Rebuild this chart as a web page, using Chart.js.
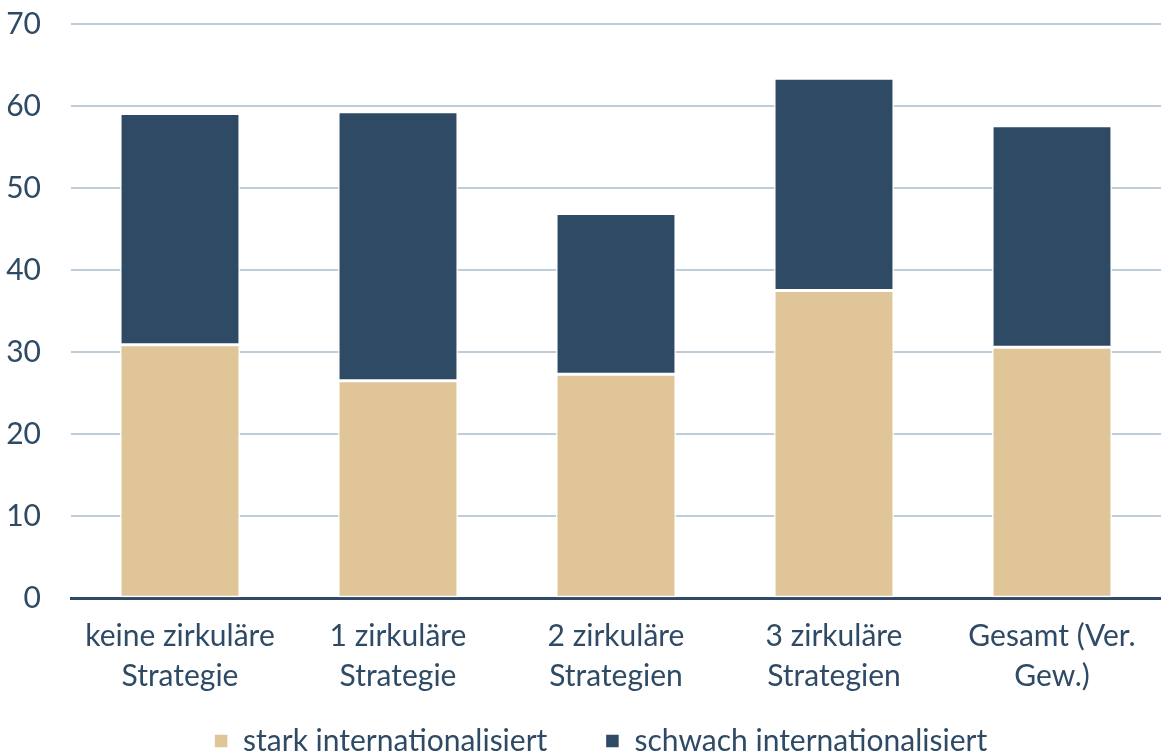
<!DOCTYPE html>
<html>
<head>
<meta charset="utf-8">
<script src="https://cdn.jsdelivr.net/npm/chart.js@4/dist/chart.umd.min.js"></script>
<style>
  html, body { margin: 0; padding: 0; background: #fff; }
  #wrap { width: 1161px; height: 753px; }
</style>
</head>
<body>
<div id="wrap"><canvas id="chart" width="1161" height="753"></canvas></div>
<script>
const categories = [
    ['keine zirkuläre', 'Strategie'],
    ['1 zirkuläre', 'Strategie'],
    ['2 zirkuläre', 'Strategien'],
    ['3 zirkuläre', 'Strategien'],
    ['Gesamt (Ver.', 'Gew.)']
];
const starkValues = [30.9, 26.5, 27.3, 37.5, 30.6];
const schwachValues = [28.2, 32.8, 19.6, 25.9, 27.0];
const yTicks = [0, 10, 20, 30, 40, 50, 60, 70];

const textColor = '#2E4A65';
const fontFamily = 'Lato, "Open Sans", sans-serif';

new Chart(document.getElementById('chart'), {
    type: 'bar',
    data: {
        labels: categories,
        datasets: [
            {
                // trailing spaces widen the gap between the two legend entries
                label: 'stark internationalisiert      ',
                data: starkValues,
                backgroundColor: '#DFC598',
                borderColor: '#ffffff',
                borderWidth: 1.5,
                borderSkipped: false,
                barPercentage: 0.55,
                categoryPercentage: 1.0
            },
            {
                label: 'schwach internationalisiert    ',
                data: schwachValues,
                backgroundColor: '#2E4A65',
                borderColor: '#ffffff',
                borderWidth: 1.5,
                borderSkipped: false,
                barPercentage: 0.55,
                categoryPercentage: 1.0
            }
        ]
    },
    options: {
        responsive: false,
        animation: false,
        layout: { padding: { left: 6, right: 0, top: 0, bottom: -13 } },
        plugins: {
            tooltip: { enabled: false },
            legend: {
                position: 'bottom',
                fullSize: false,
                labels: {
                    color: textColor,
                    font: { family: fontFamily, size: 30 },
                    usePointStyle: true,
                    pointStyle: 'rect',
                    boxWidth: 14,
                    boxHeight: 14,
                    padding: 12
                }
            }
        },
        scales: {
            x: {
                stacked: true,
                grid: { display: false, drawTicks: false },
                border: { color: '#2E4A65', width: 3 },
                ticks: {
                    color: textColor,
                    font: { family: fontFamily, size: 30, lineHeight: 1.33 },
                    maxRotation: 0,
                    padding: 18
                },
                afterFit: axis => { axis.paddingLeft = 0; axis.paddingRight = 0; }
            },
            y: {
                stacked: true,
                min: 0,
                max: 70,
                afterBuildTicks: axis => { axis.ticks = yTicks.map(v => ({ value: v })); },
                grid: { color: '#BFCCDA', lineWidth: 2, drawTicks: false },
                border: { display: false },
                ticks: {
                    color: textColor,
                    font: { family: fontFamily, size: 30 },
                    padding: 30
                },
                afterFit: axis => { axis.width = 65; axis.paddingTop = 24; axis.paddingBottom = 0; }
            }
        }
    }
});
</script>
</body>
</html>
